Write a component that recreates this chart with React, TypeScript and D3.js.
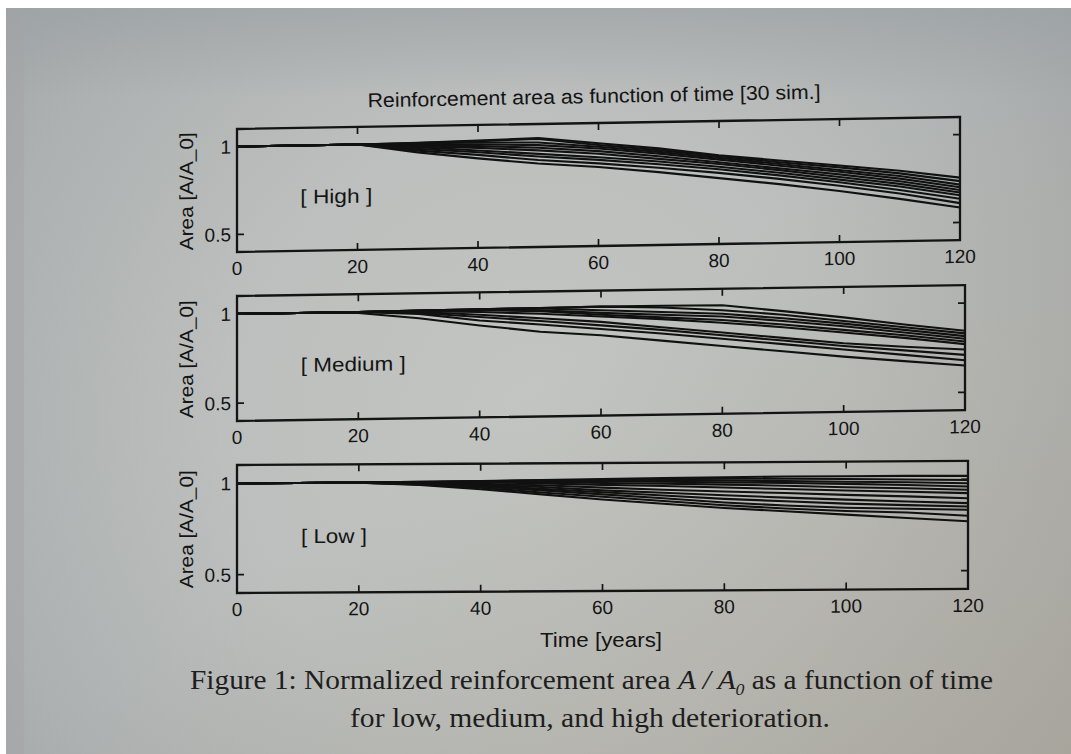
import React from 'react';
import * as d3 from 'd3';

const years = [0, 10, 20, 30, 40, 50, 60, 70, 80, 90, 100, 110, 120];
const xTicks = [0, 20, 40, 60, 80, 100, 120];
const yTicks = [0.5, 1];

const highSims = [
  [1, 1, 1, 1.005, 1.012, 1.02, 0.985, 0.95, 0.905, 0.87, 0.835, 0.8, 0.755],
  [1, 1, 1, 1.003, 1.008, 1.015, 0.975, 0.94, 0.9, 0.86, 0.825, 0.785, 0.735],
  [1, 1, 1, 1.0, 1.0, 0.995, 0.965, 0.93, 0.89, 0.85, 0.81, 0.77, 0.715],
  [1, 1, 1, 0.995, 0.99, 0.98, 0.955, 0.92, 0.88, 0.84, 0.8, 0.755, 0.7],
  [1, 1, 1, 0.99, 0.98, 0.965, 0.94, 0.905, 0.865, 0.825, 0.785, 0.74, 0.685],
  [1, 1, 1, 0.985, 0.97, 0.95, 0.925, 0.89, 0.855, 0.815, 0.77, 0.725, 0.67],
  [1, 1, 1, 0.98, 0.955, 0.93, 0.905, 0.875, 0.84, 0.8, 0.755, 0.71, 0.655],
  [1, 1, 1, 0.97, 0.945, 0.915, 0.89, 0.86, 0.825, 0.785, 0.74, 0.69, 0.635],
  [1, 1, 1, 0.96, 0.93, 0.895, 0.87, 0.84, 0.805, 0.765, 0.72, 0.67, 0.61],
  [1, 1, 1, 0.95, 0.91, 0.875, 0.85, 0.815, 0.775, 0.735, 0.69, 0.64, 0.585],
];

const mediumSims = [
  [1, 1, 1, 1.003, 1.006, 1.008, 1.01, 1.01, 1.008, 0.97, 0.93, 0.885, 0.845],
  [1, 1, 1, 1.003, 1.006, 1.008, 1.01, 1.0, 0.98, 0.95, 0.91, 0.87, 0.83],
  [1, 1, 1, 1.003, 1.005, 1.005, 0.99, 0.975, 0.96, 0.93, 0.895, 0.855, 0.815],
  [1, 1, 1, 1.002, 1.003, 0.995, 0.975, 0.96, 0.945, 0.915, 0.88, 0.84, 0.8],
  [1, 1, 1, 1.0, 1.0, 0.99, 0.965, 0.945, 0.925, 0.895, 0.86, 0.825, 0.785],
  [1, 1, 1, 1.0, 0.99, 0.975, 0.955, 0.935, 0.91, 0.88, 0.845, 0.81, 0.77],
  [1, 1, 1, 0.995, 0.975, 0.95, 0.925, 0.89, 0.855, 0.82, 0.785, 0.76, 0.74],
  [1, 1, 1, 0.99, 0.962, 0.935, 0.905, 0.875, 0.84, 0.805, 0.77, 0.74, 0.71],
  [1, 1, 1, 0.985, 0.943, 0.915, 0.885, 0.855, 0.82, 0.785, 0.75, 0.715, 0.68],
  [1, 1, 0.995, 0.96, 0.915, 0.875, 0.85, 0.815, 0.78, 0.745, 0.71, 0.68, 0.65],
];

const lowSims = [
  [1, 1, 1, 1.002, 1.005, 1.008, 1.012, 1.015, 1.018, 1.02, 1.02, 1.02, 1.018],
  [1, 1, 1, 1.002, 1.004, 1.006, 1.008, 1.01, 1.01, 1.008, 1.005, 1.0, 0.996],
  [1, 1, 1, 1.0, 1.003, 1.005, 1.006, 1.005, 1.0, 0.995, 0.99, 0.985, 0.978],
  [1, 1, 1, 1.0, 1.002, 1.003, 1.002, 0.995, 0.99, 0.985, 0.978, 0.97, 0.96],
  [1, 1, 1, 1.0, 1.0, 0.998, 0.99, 0.985, 0.978, 0.97, 0.96, 0.952, 0.942],
  [1, 1, 1, 1.0, 0.998, 0.99, 0.98, 0.972, 0.962, 0.952, 0.942, 0.933, 0.924],
  [1, 1, 1, 0.998, 0.99, 0.98, 0.965, 0.952, 0.94, 0.93, 0.918, 0.908, 0.896],
  [1, 1, 1, 0.995, 0.985, 0.97, 0.95, 0.935, 0.92, 0.905, 0.892, 0.88, 0.869],
  [1, 1, 1, 0.993, 0.98, 0.96, 0.94, 0.92, 0.9, 0.885, 0.87, 0.86, 0.851],
  [1, 1, 1, 0.99, 0.975, 0.952, 0.928, 0.905, 0.88, 0.862, 0.848, 0.84, 0.833],
  [1, 1, 1, 0.988, 0.968, 0.94, 0.915, 0.89, 0.865, 0.845, 0.83, 0.82, 0.8],
  [1, 1, 1, 0.985, 0.96, 0.93, 0.9, 0.875, 0.85, 0.83, 0.81, 0.79, 0.77],
];

const panelLabels = ['[ High ]', '[ Medium ]', '[ Low ]'];
const chartTitle = 'Reinforcement area as function of time [30 sim.]';
const yAxisLabel = 'Area [A/A_0]';
const xAxisLabel = 'Time [years]';

const SANS = '"Liberation Sans", Arial, Helvetica, sans-serif';
const SERIF = '"Liberation Serif", "Times New Roman", serif';
const INK = '#141414';

type PanelProps = {
  sims: number[][];
  label: string;
  labelWidth: number;
  top: number;
  bottom: number;
  left: number;
  right: number;
  skew: number;
};

function Panel({ sims, label, labelWidth, top, bottom, left, right, skew }: PanelProps) {
  const x = d3.scaleLinear().domain([0, 120]).range([left, right]);
  const y = d3.scaleLinear().domain([0.4, 1.1]).range([bottom, top]);
  const line = d3
    .line<number>()
    .x((_, i) => x(years[i]))
    .y((d) => y(d));
  const tl = 7;
  return (
    <g transform={`translate(${left},0) skewY(${skew}) translate(${-left},0)`}>
      {sims.map((s, i) => (
        <path key={i} d={line(s) || ''} fill="none" stroke="#111" strokeWidth={2.1} strokeLinejoin="round" />
      ))}
      <rect x={left} y={top} width={right - left} height={bottom - top} fill="none" stroke={INK} strokeWidth={2.3} />
      {xTicks.map((t) => (
        <g key={'xt' + t}>
          <line x1={x(t)} x2={x(t)} y1={bottom} y2={bottom - tl} stroke={INK} strokeWidth={1.7} />
          <line x1={x(t)} x2={x(t)} y1={top} y2={top + tl} stroke={INK} strokeWidth={1.7} />
          <text
            x={x(t)}
            y={bottom + 23}
            textAnchor="middle"
            fontFamily={SANS}
            fontSize={19}
            fill={INK}
          >
            {t}
          </text>
        </g>
      ))}
      {yTicks.map((t) => (
        <g key={'yt' + t}>
          <line x1={left} x2={left + tl} y1={y(t)} y2={y(t)} stroke={INK} strokeWidth={1.7} />
          <line x1={right} x2={right - tl} y1={y(t)} y2={y(t)} stroke={INK} strokeWidth={1.7} />
          <text x={left - 6} y={y(t)} dy="0.36em" textAnchor="end" fontFamily={SANS} fontSize={19} fill={INK}>
            {t}
          </text>
        </g>
      ))}
      <text
        transform={`translate(187,${(top + bottom) / 2}) rotate(-90)`}
        textAnchor="middle"
        dominantBaseline="central"
        fontFamily={SANS}
        fontSize={19}
        fill={INK}
        textLength={118}
        lengthAdjust="spacingAndGlyphs"
      >
        {yAxisLabel}
      </text>
      <text
        x={x(10.5)}
        y={y(0.71)}
        dy="0.36em"
        fontFamily={SANS}
        fontSize={20}
        fill={INK}
        textLength={labelWidth}
        lengthAdjust="spacingAndGlyphs"
      >
        {label}
      </text>
    </g>
  );
}

export default function App() {
  const W = 1071;
  const H = 754;
  return (
    <div style={{ position: 'absolute', left: 0, top: 0, width: W, height: H }}>
      <svg width={W} height={H} style={{ display: 'block' }}>
        <defs>
          <radialGradient id="paper" cx="540" cy="420" r="700" gradientUnits="userSpaceOnUse">
            <stop offset="0" stopColor="#c3c5c2" />
            <stop offset="0.45" stopColor="#bcbfbd" />
            <stop offset="0.8" stopColor="#adb1b1" />
            <stop offset="1" stopColor="#a2a6a8" />
          </radialGradient>
          <linearGradient id="warm" x1="0" y1="0" x2="1" y2="1">
            <stop offset="0.5" stopColor="#a89f90" stopOpacity={0} />
            <stop offset="1" stopColor="#a89f90" stopOpacity={0.55} />
          </linearGradient>
          <linearGradient id="topdark" x1="0" y1="0" x2="0" y2="1">
            <stop offset="0" stopColor="#9aa0a4" stopOpacity={0.6} />
            <stop offset="0.12" stopColor="#9aa0a4" stopOpacity={0} />
          </linearGradient>
        </defs>
        <rect x={0} y={0} width={W} height={H} fill="#ffffff" />
        <rect x={6} y={8} width={W - 6} height={H - 8} fill="url(#paper)" />
        <rect x={6} y={8} width={W - 6} height={H - 8} fill="url(#warm)" />
        <rect x={6} y={8} width={W - 6} height={H - 8} fill="url(#topdark)" />
        <rect x={6} y={8} width={18} height={H - 8} fill="#a4a3a6" opacity={0.5} />

        <text
          x={594}
          y={103}
          textAnchor="middle"
          fontFamily={SANS}
          fontSize={20}
          fill={INK}
          transform="rotate(-1.1 594 97)"
          textLength={453}
          lengthAdjust="spacingAndGlyphs"
        >
          {chartTitle}
        </text>

        <Panel sims={highSims} label={panelLabels[0]} labelWidth={72} top={129} bottom={252} left={237} right={960} skew={-0.95} />
        <Panel sims={mediumSims} label={panelLabels[1]} labelWidth={105} top={296} bottom={421} left={237} right={965} skew={-0.85} />
        <Panel sims={lowSims} label={panelLabels[2]} labelWidth={66} top={465} bottom={593} left={237} right={968} skew={-0.32} />

        <text
          x={601}
          y={647}
          textAnchor="middle"
          fontFamily={SANS}
          fontSize={20}
          fill={INK}
          textLength={122}
          lengthAdjust="spacingAndGlyphs"
        >
          {xAxisLabel}
        </text>

        <text
          x={190}
          y={689}
          fontFamily={SERIF}
          fontSize={28}
          fill="#1e1e1e"
          textLength={803}
          lengthAdjust="spacingAndGlyphs"
        >
          Figure 1:  Normalized reinforcement area{' '}
          <tspan fontStyle="italic">A / A</tspan>
          <tspan fontStyle="italic" fontSize={17} dy={6}>0</tspan>
          <tspan dy={-6}> as a function of time</tspan>
        </text>
        <text
          x={590}
          y={727}
          textAnchor="middle"
          fontFamily={SERIF}
          fontSize={28}
          fill="#1e1e1e"
          textLength={480}
          lengthAdjust="spacingAndGlyphs"
        >
          for low, medium, and high deterioration.
        </text>
      </svg>
    </div>
  );
}
